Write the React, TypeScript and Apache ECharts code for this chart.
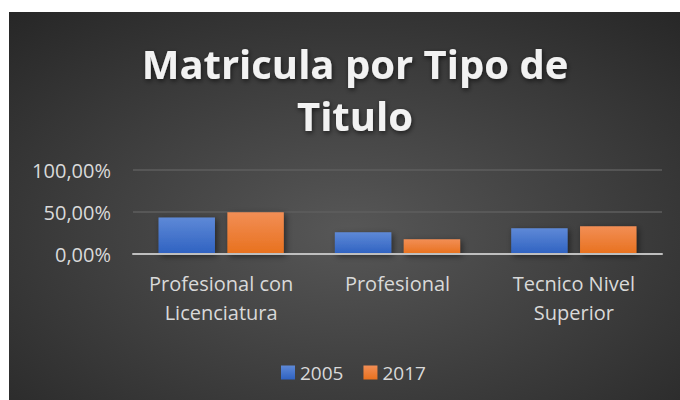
import React, { useEffect, useRef } from "react";
import * as echarts from "echarts";

const categories = ["Profesional con\nLicenciatura", "Profesional", "Tecnico Nivel\nSuperior"];
const seriesNames = ["2005", "2017"];
const values2005 = [0.436, 0.258, 0.306];
const values2017 = [0.496, 0.175, 0.329];
const yTicks = [0, 0.5, 1];

const FONT = "'Open Sans', Lato, sans-serif";

export default function App() {
  const ref = useRef<HTMLDivElement>(null);
  useEffect(() => {
    if (!ref.current) return;
    const chart = echarts.init(ref.current, undefined, { renderer: "svg" });
    const grad = (top: string, bottom: string) =>
      new echarts.graphic.LinearGradient(0, 0, 0, 1, [
        { offset: 0, color: top },
        { offset: 1, color: bottom },
      ]);
    chart.setOption({
      animation: false,
      graphic: [
        {
          type: "rect",
          z: -10,
          silent: true,
          shape: { x: 9, y: 12, width: 680, height: 400 },
          style: {
            fill: new echarts.graphic.RadialGradient(0.5, 0.55, 0.75, [
              { offset: 0, color: "#575757" },
              { offset: 1, color: "#262626" },
            ]),
          },
        },
      ],
      title: {
        text: "Matricula por Tipo de\nTitulo",
        left: 350,
        top: 32,
        textAlign: "center",
        textStyle: {
          color: "#f2f2f2",
          fontFamily: FONT,
          fontWeight: "bold",
          fontSize: 40,
          lineHeight: 52,
          textShadowColor: "rgba(0,0,0,0.6)",
          textShadowBlur: 5,
          textShadowOffsetX: 1,
          textShadowOffsetY: 2,
        },
      },
      legend: {
        data: seriesNames,
        top: 358,
        left: 276,
        icon: "rect",
        itemWidth: 14,
        itemHeight: 14,
        itemGap: 20,
        textStyle: { color: "#d9d9d9", fontSize: 19, fontFamily: FONT },
      },
      grid: { left: 133, right: 18, top: 170, bottom: 146 },
      xAxis: {
        type: "category",
        data: categories,
        axisTick: { show: false },
        axisLine: { lineStyle: { color: "#bfbfbf", width: 2 } },
        axisLabel: {
          color: "#d9d9d9",
          fontSize: 20,
          lineHeight: 29,
          margin: 15,
          fontFamily: FONT,
          interval: 0,
        },
        z: 5,
      },
      yAxis: {
        type: "value",
        min: yTicks[0],
        max: yTicks[yTicks.length - 1],
        interval: yTicks[1] - yTicks[0],
        axisLine: { show: false },
        axisTick: { show: false },
        splitLine: { lineStyle: { color: "#5e5e5e", width: 1.5 } },
        axisLabel: {
          color: "#d9d9d9",
          fontSize: 20,
          margin: 22,
          fontFamily: FONT,
          formatter: (v: number) => (v * 100).toFixed(2).replace(".", ",") + "%",
        },
      },
      series: [
        {
          name: seriesNames[0],
          type: "bar",
          data: values2005,
          barWidth: "32%",
          barGap: "22%",
          itemStyle: {
            color: grad("#5e89d7", "#2f62c1"),
            shadowColor: "rgba(0,0,0,0.5)",
            shadowBlur: 6,
            shadowOffsetX: 2,
            shadowOffsetY: 2,
          },
        },
        {
          name: seriesNames[1],
          type: "bar",
          data: values2017,
          barWidth: "32%",
          barGap: "22%",
          itemStyle: {
            color: grad("#f28e55", "#e8711e"),
            shadowColor: "rgba(0,0,0,0.5)",
            shadowBlur: 6,
            shadowOffsetX: 2,
            shadowOffsetY: 2,
          },
        },
      ],
    });
    return () => chart.dispose();
  }, []);
  return (
    <div
      ref={ref}
      style={{ position: "absolute", left: 0, top: 0, width: 680, height: 400 }}
    />
  );
}
